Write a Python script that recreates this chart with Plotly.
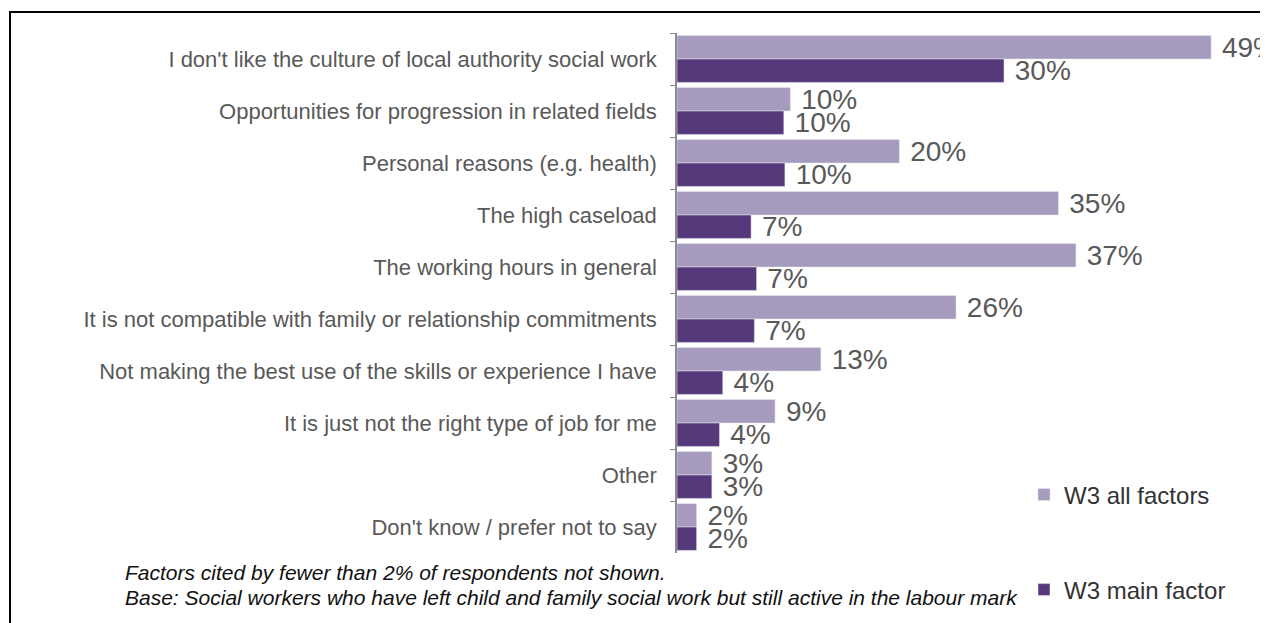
import plotly.graph_objects as go

# Survey data: reasons for leaving (percent of respondents)
categories = [
    "I don't like the culture of local authority social work",
    "Opportunities for progression in related fields",
    "Personal reasons (e.g. health)",
    "The high caseload",
    "The working hours in general",
    "It is not compatible with family or relationship commitments",
    "Not making the best use of the skills or experience I have",
    "It is just not the right type of job for me",
    "Other",
    "Don't know / prefer not to say",
]
all_factors = [49.0, 10.4, 20.4, 35.0, 36.6, 25.6, 13.2, 9.0, 3.2, 1.8]
main_factor = [30.0, 9.8, 9.9, 6.8, 7.3, 7.1, 4.2, 3.9, 3.2, 1.8]

LIGHT = "#A69ABD"
DARK = "#56397A"
GREY = "#595959"
FONT = "Liberation Sans, Arial, sans-serif"

# page body has an 8px margin, so work in screen pixels and shift
OFF = 8
W, H = 1268 - OFF, 623 - OFF
M_L, M_T = 677 - OFF, 33 - OFF
M_B = H - (553 - OFF)
M_R = 0
PW, PH = W - M_L - M_R, H - M_T - M_B


def px_x(x):
    return (x - OFF - M_L) / PW


def px_y(y):
    return (H - M_B - (y - OFF)) / PH


label_font = dict(size=28, color=GREY, family=FONT)

fig = go.Figure()
fig.add_trace(go.Bar(
    y=categories, x=all_factors, orientation="h", name="W3 all factors",
    marker=dict(color=LIGHT), legend="legend",
    texttemplate="\u00a0%{x:.0f}%", textposition="outside", constraintext="none",
    textfont=label_font, cliponaxis=False,
))
fig.add_trace(go.Bar(
    y=categories, x=main_factor, orientation="h", name="W3 main factor",
    marker=dict(color=DARK), legend="legend2",
    texttemplate="\u00a0%{x:.0f}%", textposition="outside", constraintext="none",
    textfont=label_font, cliponaxis=False,
))

notes = [
    "Factors cited by fewer than 2% of respondents not shown.",
    "Base: Social workers who have left child and family social work but still active in the labour mark",
]
annotations = [
    dict(text=t, x=px_x(123), y=px_y(y), xref="paper", yref="paper",
         xanchor="left", yanchor="middle", showarrow=False,
         font=dict(size=21, color="#111111", family=FONT, style="italic"))
    for t, y in zip(notes, [572, 597])
]

legend_style = dict(
    font=dict(size=24, color="#333333", family=FONT),
    bgcolor="rgba(0,0,0,0)", xanchor="left", yanchor="middle",
    itemwidth=30,
)

fig.update_layout(
    width=W, height=H,
    margin=dict(l=M_L, r=M_R, t=M_T, b=M_B),
    paper_bgcolor="white", plot_bgcolor="white",
    barmode="group", bargap=0.1, bargroupgap=0,
    font=dict(family=FONT, color=GREY),
    showlegend=True,
    xaxis=dict(range=[0, PW / 10.9], visible=False, showgrid=False, zeroline=False),
    yaxis=dict(
        autorange="reversed", showgrid=False, zeroline=False,
        showline=True, linecolor="#8C8C8C", linewidth=1.5,
        ticks="outside", tickson="boundaries", ticklen=5, tickcolor="#8C8C8C",
        tickfont=dict(size=22, color=GREY, family=FONT), ticklabelstandoff=14,
    ),
    legend=dict(x=px_x(1024), y=px_y(495), **legend_style),
    legend2=dict(x=px_x(1024), y=px_y(590), **legend_style),
    annotations=annotations,
    shapes=[dict(
        type="rect", xref="paper", yref="paper",
        x0=px_x(10), x1=px_x(1268 + 50), y0=px_y(623 + 50), y1=px_y(12),
        line=dict(color="black", width=2), fillcolor="rgba(0,0,0,0)", layer="below",
    )],
)

fig.write_html("out.html")
